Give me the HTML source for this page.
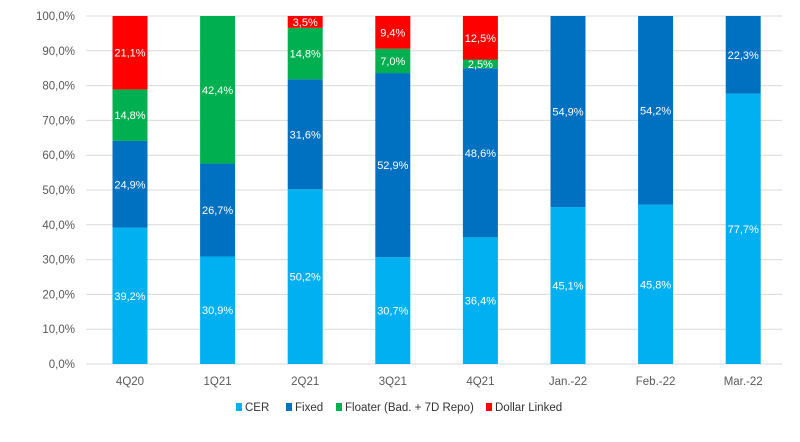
<!DOCTYPE html>
<html><head><meta charset="utf-8"><style>
body{margin:0;background:#fff;width:800px;height:437px;overflow:hidden;font-family:"Liberation Sans",sans-serif}
</style></head><body>
<svg id="chart" width="800" height="437" xmlns="http://www.w3.org/2000/svg"></svg>
<script>
const categories=["4Q20","1Q21","2Q21","3Q21","4Q21","Jan.-22","Feb.-22","Mar.-22"];
const cer=[39.2,30.9,50.2,30.7,36.4,45.1,45.8,77.7];
const fixed=[24.9,26.7,31.6,52.9,48.6,54.9,54.2,22.3];
const floater=[14.8,42.4,14.8,7.0,2.5,0,0,0];
const dollar=[21.1,0,3.5,9.4,12.5,0,0,0];
const yTicks=[0,10,20,30,40,50,60,70,80,90,100];
const seriesNames=["CER","Fixed","Floater (Bad. + 7D Repo)","Dollar Linked"];
const colors=["#00B0F0","#0070C0","#00B050","#FF0000"];
const NS="http://www.w3.org/2000/svg";
const svg=document.getElementById('chart');
const x0=86.2,x1=787,yTop=16,yBot=364,gridEnd=782;
const step=(x1-x0)/categories.length, bw=35;
const y=v=>yBot-(v/100)*(yBot-yTop);
const xc=i=>x0+step*(i+0.5);
function mk(tag,attrs,txt){const e=document.createElementNS(NS,tag);for(const k in attrs)e.setAttribute(k,attrs[k]);if(txt!==undefined)e.textContent=txt;svg.appendChild(e);return e;}
const fmt=v=>v.toFixed(1).replace('.',',')+'%';
yTicks.forEach(t=>{
  const g=mk('line',{x1:x0,x2:gridEnd,y1:y(t),y2:y(t),stroke:'#d9d9d9','stroke-width':1});
  
  
  const l=mk('text',{x:75,y:y(t)+4,'text-anchor':'end','font-size':11.5,fill:'#595959'},fmt(t));
  
  
});
const series=[cer,fixed,floater,dollar];
categories.forEach((c,i)=>{
  let base=0;
  series.forEach((s,k)=>{
    const v=s[i]; if(!v) return;
    const top=Math.min(100,base+v);
    const r=mk('rect',{x:xc(i)-bw/2,y:y(top),width:bw,height:y(base)-y(top),fill:colors[k]});
    
    
    const t=mk('text',{x:xc(i),y:(y(base)+y(top))/2+4,'text-anchor':'middle','font-size':11,fill:'#fff'},fmt(v));
    
    
    base=top;
  });
  const cl=mk('text',{x:xc(i),y:385,'text-anchor':'middle','font-size':11.5,fill:'#595959'},c);
  
  
});
let lx=236;
const widths=[50,50,150,90];
seriesNames.forEach((n,k)=>{
  const r=mk('rect',{x:lx,y:403,width:6,height:8,fill:colors[k]});
  
  
  const t=mk('text',{x:lx+9,y:411,'font-size':11.5,fill:'#333'},n);
  
  
  lx+=widths[k];
});
</script>
</body></html>
